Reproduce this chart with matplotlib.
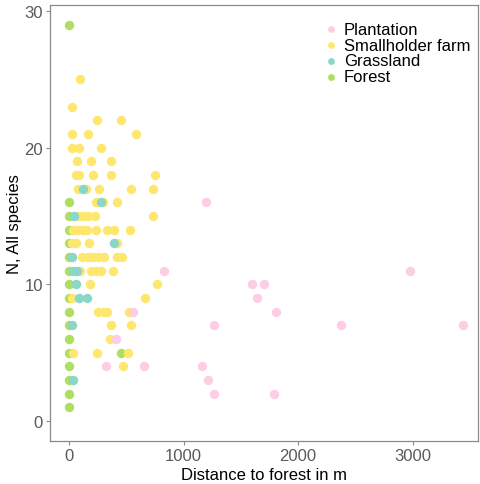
import numpy as np
import matplotlib.pyplot as plt

plt.rcParams['font.family'] = ['Liberation Sans', 'DejaVu Sans']

# Data (distance to forest in m, number of species)
forest_x = [0] * 17 + [451]
forest_y = list(range(1, 17)) + [29, 5]

farm_x = [96, 29, 244, 454, 29, 163, 585, 29, 87, 276, 67, 192, 364,
          60, 90, 212, 364, 750, 80, 150, 259, 541, 730,
          236, 297, 421, 81, 125, 168, 227, 730,
          38, 81, 125, 154, 236, 329, 395, 535,
          23, 58, 175, 416, 116, 168, 212, 256, 308, 416, 460,
          96, 192, 233, 277, 387, 180, 771, 29, 663,
          256, 308, 334, 524, 364, 541, 358, 38, 241, 518, 474]
farm_y = [25, 23, 22, 22, 21, 21, 21, 20, 20, 20, 19, 19, 19,
          18, 18, 18, 18, 18, 17, 17, 17, 17, 17,
          16, 16, 16, 15, 15, 15, 15, 15,
          14, 14, 14, 14, 14, 14, 14, 14,
          13, 13, 13, 13, 12, 12, 12, 12, 12, 12, 12,
          11, 11, 11, 11, 11, 10, 10, 9, 9,
          8, 8, 8, 8, 7, 7, 6, 5, 5, 5, 4]

grass_x = [125, 276, 46, 390, 23, 38, 67, 58, 90, 154, 29, 38]
grass_y = [17, 16, 15, 13, 12, 11, 11, 10, 9, 9, 7, 3]

plant_x = [1195, 832, 2976, 1594, 1702, 1643, 561, 1803, 1265, 2371, 3441,
           407, 320, 657, 1158, 1213, 1265, 1791]
plant_y = [16, 11, 11, 10, 10, 9, 8, 8, 7, 7, 7, 6, 4, 4, 4, 3, 2, 2]

col_plant = '#FCCDE4'
col_farm = '#FEE76E'
col_grass = '#8AD6C8'
col_forest = '#AEDE62'

fig = plt.figure(figsize=(4.8, 4.85), dpi=100)
ax = fig.add_axes([0.104, 0.0887, 0.892, 0.899])

size = 46
ax.scatter(forest_x, forest_y, s=size, color=col_forest, lw=0, label='Forest', zorder=2)
ax.scatter(farm_x, farm_y, s=size, color=col_farm, lw=0, label='Smallholder farm', zorder=3)
ax.scatter(grass_x, grass_y, s=size, color=col_grass, lw=0, label='Grassland', zorder=4)
ax.scatter(plant_x, plant_y, s=size, color=col_plant, lw=0, label='Plantation', zorder=5)

ax.set_xlim(-166, 3570)
ax.set_ylim(-1.46, 30.45)
ax.set_xticks([0, 1000, 2000, 3000])
ax.set_yticks([0, 10, 20, 30])

for s in ax.spines.values():
    s.set_color('#8a8a8a')
    s.set_linewidth(0.9)
ax.tick_params(colors='#8a8a8a', labelcolor='#5a5a5a', labelsize=12, length=3, width=0.8, pad=2)

ax.set_xlabel('Distance to forest in m', fontsize=12, color='black', labelpad=3)
ax.set_ylabel('N, All species', fontsize=12, color='black', labelpad=1.5)

handles, labels = ax.get_legend_handles_labels()
order = [3, 1, 2, 0]
ax.legend([handles[i] for i in order], [labels[i] for i in order],
          loc='upper left', bbox_to_anchor=(0.645, 0.977), bbox_transform=fig.transFigure,
          frameon=False, fontsize=12, markerscale=0.72, handletextpad=0.15,
          labelspacing=0.05, handlelength=1.2, borderpad=0.2)

plt.savefig('out.png', dpi=100)
